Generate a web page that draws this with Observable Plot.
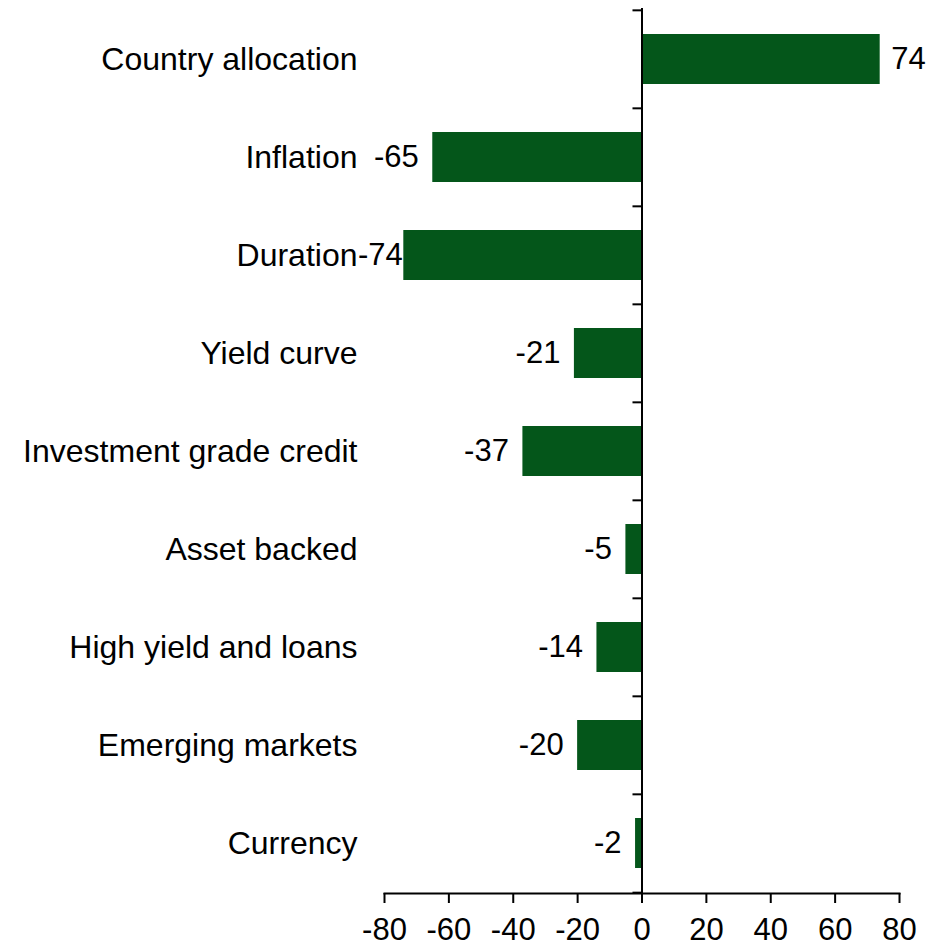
<!DOCTYPE html>
<html>
<head>
<meta charset="utf-8">
<script src="https://cdn.jsdelivr.net/npm/d3@7"></script>
<script src="https://cdn.jsdelivr.net/npm/@observablehq/plot@0.6"></script>
<style>
  html, body { margin: 0; padding: 0; background: #fff; }
  #chart svg { display: block; font-family: "Liberation Sans", Arial, sans-serif; }
</style>
</head>
<body>
<div id="chart"></div>
<script>
const categories = ["Country allocation", "Inflation", "Duration", "Yield curve", "Investment grade credit", "Asset backed", "High yield and loans", "Emerging markets", "Currency"];
const values = [74, -65, -74, -21, -37, -5, -14, -20, -2];
const xTicks = [-80, -60, -40, -20, 0, 20, 40, 60, 80];

const data = categories.map((c, i) => ({category: c, value: values[i]}));

const width = 934, height = 945;
const marginTop = 8, marginBottom = 52, marginLeft = 384, marginRight = 35;
const step = (height - marginTop - marginBottom) / categories.length;
const green = "#04561a";
const fs = 31;
// labels that would run past the plot's left edge are clamped against the bar (as in the source)
const clampLimit = -70;

const chart = Plot.plot({
  width, height, marginTop, marginBottom, marginLeft, marginRight,
  style: {fontFamily: "Liberation Sans, Arial, sans-serif", fontSize: fs + "px", color: "#000", background: "#fff", overflow: "visible"},
  x: {domain: [-80, 80], ticks: xTicks},
  y: {domain: categories, paddingInner: 0.49, paddingOuter: 0.245},
  marks: [
    Plot.barX(data, {x: "value", y: "category", fill: green}),
    Plot.ruleX([0], {stroke: "#000", strokeWidth: 2}),
    Plot.ruleY(categories, {y: d => d, x1: 0, x2: -2.8, dy: -step / 2, stroke: "#000", strokeWidth: 2}),
    Plot.ruleY([categories[categories.length - 1]], {y: d => d, x1: 0, x2: -2.8, dy: step / 2, stroke: "#000", strokeWidth: 2}),
    Plot.frame({anchor: "bottom", stroke: "#000", strokeWidth: 2}),
    Plot.axisX({ticks: xTicks, tickSize: 10, tickPadding: 14, tickFormat: d => String(d), fontSize: fs, strokeWidth: 2, label: null}),
    Plot.axisY({tickSize: 0, tickPadding: 27, fontSize: 32, label: null}),
    Plot.text(data.filter(d => d.value >= 0), {x: "value", y: "category", text: d => String(d.value), textAnchor: "start", dx: 11, fontSize: fs, fill: "#000"}),
    Plot.text(data.filter(d => d.value < 0 && d.value >= clampLimit), {x: "value", y: "category", text: d => String(d.value), textAnchor: "end", dx: -14, fontSize: fs, fill: "#000"}),
    Plot.text(data.filter(d => d.value < clampLimit), {x: "value", y: "category", text: d => String(d.value), textAnchor: "end", dx: -1, fontSize: fs, fill: "#000"})
  ]
});
document.getElementById("chart").appendChild(chart);
</script>
</body>
</html>
